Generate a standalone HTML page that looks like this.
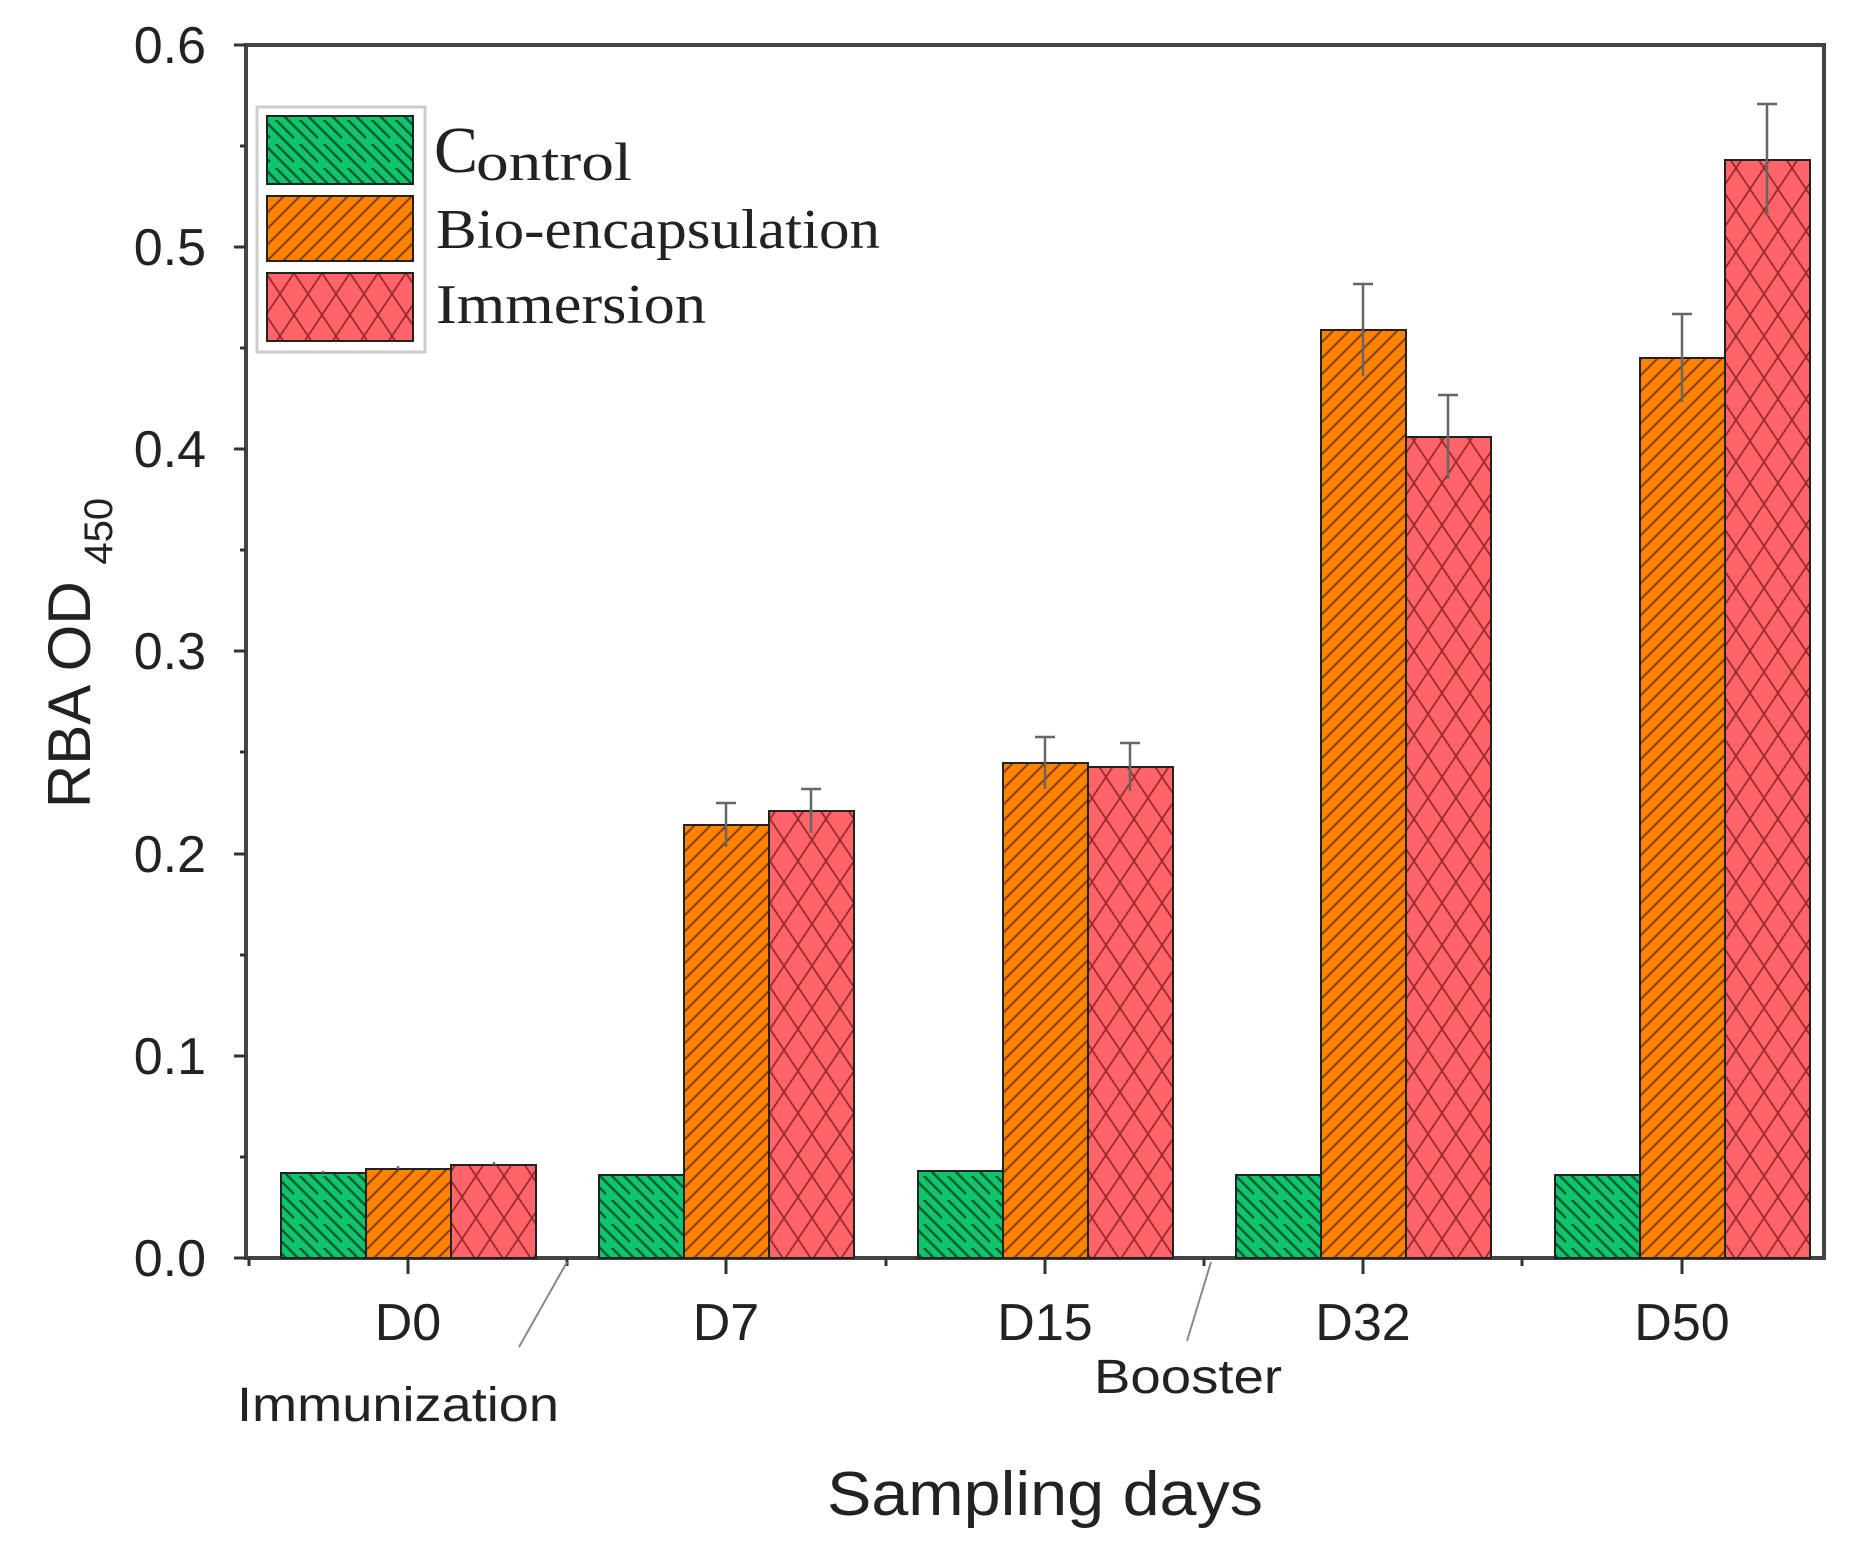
<!DOCTYPE html>
<html><head><meta charset="utf-8"><style>
html,body{margin:0;padding:0;background:#fff;}
svg{display:block;}
text{font-family:"Liberation Sans",sans-serif;fill:#222;}
.s{font-family:"Liberation Serif",serif;}
</style></head><body>
<svg width="1855" height="1568" viewBox="0 0 1855 1568" xmlns="http://www.w3.org/2000/svg">
<defs>
<pattern id="pg" patternUnits="userSpaceOnUse" width="24" height="24">
<rect width="24" height="24" fill="#0dc66c"/>
<path d="M-6 6 L6 18 M0 0 L24 24 M18 6 L30 18 M6 -6 L18 6 M-6 18 L6 30 M18 -6 L30 6" stroke="#0b5a33" stroke-width="2.4"/>
</pattern>
<pattern id="po" patternUnits="userSpaceOnUse" width="16" height="16">
<rect width="16" height="16" fill="#ff8200"/>
<path d="M0 16 L16 0 M-8 8 L8 -8 M8 24 L24 8" stroke="#8a4300" stroke-width="2.2"/>
</pattern>
<pattern id="pr" patternUnits="userSpaceOnUse" width="28" height="42">
<rect width="28" height="42" fill="#ff6468"/>
<path d="M0 0 L28 42 M28 0 L0 42 M-14 21 L0 42 M14 -21 L28 0 M0 0 L14 -21 M28 42 L42 21 M-14 21 L0 0 M28 42 L14 63" stroke="#9a2a2e" stroke-width="1.8"/>
</pattern>
</defs>

<rect x="246" y="45" width="1578" height="1213" fill="none" stroke="#444" stroke-width="4"/>

<g stroke="#333" stroke-width="3">
<line x1="234" y1="45" x2="246" y2="45"/><line x1="234" y1="247" x2="246" y2="247"/>
<line x1="234" y1="449" x2="246" y2="449"/><line x1="234" y1="651" x2="246" y2="651"/>
<line x1="234" y1="854" x2="246" y2="854"/><line x1="234" y1="1056" x2="246" y2="1056"/>
<line x1="234" y1="1258" x2="246" y2="1258"/>
<line x1="240" y1="146" x2="246" y2="146"/><line x1="240" y1="348" x2="246" y2="348"/>
<line x1="240" y1="550" x2="246" y2="550"/><line x1="240" y1="752" x2="246" y2="752"/>
<line x1="240" y1="955" x2="246" y2="955"/><line x1="240" y1="1157" x2="246" y2="1157"/>
</g>
<g font-size="52" text-anchor="end">
<text x="206" y="63">0.6</text><text x="206" y="265">0.5</text><text x="206" y="467">0.4</text>
<text x="206" y="669">0.3</text><text x="206" y="872">0.2</text><text x="206" y="1074">0.1</text>
<text x="206" y="1276">0.0</text>
</g>

<g stroke="#333" stroke-width="3">
<line x1="408" y1="1258" x2="408" y2="1274"/><line x1="726" y1="1258" x2="726" y2="1274"/>
<line x1="1045" y1="1258" x2="1045" y2="1274"/><line x1="1363" y1="1258" x2="1363" y2="1274"/>
<line x1="1682" y1="1258" x2="1682" y2="1274"/>
<line x1="567" y1="1258" x2="567" y2="1266"/><line x1="886" y1="1258" x2="886" y2="1266"/>
<line x1="1204" y1="1258" x2="1204" y2="1266"/><line x1="1522" y1="1258" x2="1522" y2="1266"/>
<line x1="249" y1="1258" x2="249" y2="1266"/>
</g>
<g font-size="52" text-anchor="middle">
<text x="408" y="1340">D0</text><text x="726" y="1340">D7</text><text x="1045" y="1340">D15</text>
<text x="1363" y="1340">D32</text><text x="1682" y="1340">D50</text>
</g>

<g stroke="#222" stroke-width="2">
<rect x="281" y="1173" width="85" height="85" fill="url(#pg)"/>
<rect x="366" y="1169" width="85" height="89" fill="url(#po)"/>
<rect x="451" y="1165" width="85" height="93" fill="url(#pr)"/>
<rect x="599" y="1175" width="85" height="83" fill="url(#pg)"/>
<rect x="684" y="825" width="85" height="433" fill="url(#po)"/>
<rect x="769" y="811" width="85" height="447" fill="url(#pr)"/>
<rect x="918" y="1171" width="85" height="87" fill="url(#pg)"/>
<rect x="1003" y="763" width="85" height="495" fill="url(#po)"/>
<rect x="1088" y="767" width="85" height="491" fill="url(#pr)"/>
<rect x="1236" y="1175" width="85" height="83" fill="url(#pg)"/>
<rect x="1321" y="330" width="85" height="928" fill="url(#po)"/>
<rect x="1406" y="437" width="85" height="821" fill="url(#pr)"/>
<rect x="1555" y="1175" width="85" height="83" fill="url(#pg)"/>
<rect x="1640" y="358" width="85" height="900" fill="url(#po)"/>
<rect x="1725" y="160" width="85" height="1098" fill="url(#pr)"/>
</g>

<g stroke="#666" stroke-width="2.5" fill="none">
<path d="M726 847 V803 M716 803 H736"/><path d="M811 833 V789 M801 789 H821"/>
<path d="M1045 789 V737 M1035 737 H1055"/><path d="M1130 791 V743 M1120 743 H1140"/>
<path d="M1363 376 V284 M1353 284 H1373"/><path d="M1448 479 V395 M1438 395 H1458"/>
<path d="M1682 402 V314 M1672 314 H1692"/><path d="M1767 216 V104 M1757 104 H1777"/>
<path d="M323 1173 V1171 M398 1169 V1166 M494 1165 V1162"/>
</g>

<rect x="257" y="107" width="168" height="245" fill="none" stroke="#ccc" stroke-width="3"/>
<g stroke="#222" stroke-width="2">
<rect x="267" y="116" width="146" height="68" fill="url(#pg)"/>
<rect x="267" y="196" width="146" height="65" fill="url(#po)"/>
<rect x="267" y="273" width="146" height="68" fill="url(#pr)"/>
</g>
<text class="s" x="434" y="172" font-size="66">C</text>
<text class="s" x="476" y="180" font-size="54" textLength="156" lengthAdjust="spacingAndGlyphs">ontrol</text>
<text class="s" x="436" y="248" font-size="56" textLength="444" lengthAdjust="spacingAndGlyphs">Bio-encapsulation</text>
<text class="s" x="436" y="323" font-size="56" textLength="270" lengthAdjust="spacingAndGlyphs">Immersion</text>

<g stroke="#888" stroke-width="2"><line x1="567" y1="1262" x2="519" y2="1347"/><line x1="1211" y1="1262" x2="1187" y2="1341"/></g>
<text x="398" y="1421" font-size="48" textLength="322" lengthAdjust="spacingAndGlyphs" text-anchor="middle">Immunization</text>
<text x="1188" y="1393" font-size="48" textLength="188" lengthAdjust="spacingAndGlyphs" text-anchor="middle">Booster</text>

<text x="1045" y="1515" font-size="62" textLength="436" lengthAdjust="spacingAndGlyphs" text-anchor="middle">Sampling days</text>
<text transform="translate(90,653) rotate(-90)" font-size="60" text-anchor="middle">RBA OD <tspan font-size="40" dy="22">450</tspan></text>
</svg>
</body></html>
